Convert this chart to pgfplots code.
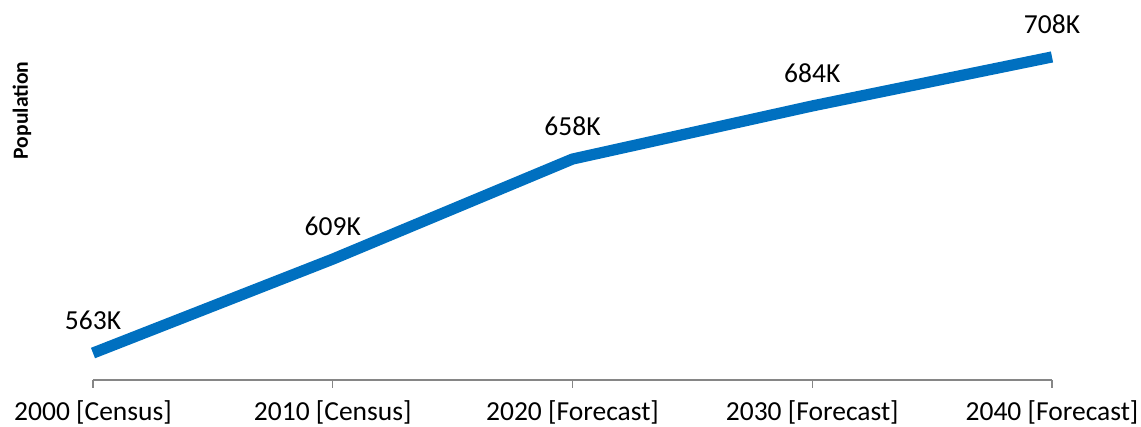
\documentclass[border=0pt]{standalone}
\usepackage{fontspec}
\setmainfont{Carlito}
\usepackage{pgfplots}
\pgfplotsset{compat=1.18}
\definecolor{lineblue}{HTML}{0070C0}
\definecolor{axisgray}{HTML}{868686}
\begin{document}
\begin{tikzpicture}
\begin{axis}[
  scale only axis,
  width=479.5pt, height=175pt,
  xmin=0, xmax=4, ymin=549.8, ymax=721.2,
  clip=false,
  axis lines=left,
  axis line style={-},
  x axis line style={draw=axisgray, line width=0.6pt},
  y axis line style={draw=none},
  ytick=\empty,
  xtick={0,1,2,3,4},
  xticklabels={2000 [Census],2010 [Census],2020 [Forecast],2030 [Forecast],2040 [Forecast]},
  tick align=outside,
  major tick length=4pt,
  x tick style={draw=axisgray, line width=0.6pt},
  xticklabel style={font=\fontsize{13.75}{16}\selectfont, anchor=center, yshift=-12pt},
  ylabel={Population},
  ylabel style={at={(rel axis cs:-0.074,0.77)}, anchor=center, font=\bfseries\fontsize{10.8}{12}\selectfont},
  /pgf/number format/assume math mode=true,
  nodes near coords={\pgfmathprintnumber[fixed,precision=0,assume math mode=true]{\pgfplotspointmeta}K},
  point meta=y,
  every node near coord/.append style={font=\fontsize{13.75}{16}\selectfont, anchor=center, yshift=16.25pt, text=black},
]
\addplot[color=lineblue, line width=5.6pt, line cap=butt, line join=round, mark=none] coordinates {
  (0,563) (1,609) (2,658) (3,684) (4,708)
};
\coordinate (sw) at (rel axis cs:0,0);
\coordinate (ne) at (rel axis cs:1,1);
\end{axis}
\pgfresetboundingbox
\path[use as bounding box] ([xshift=-46.5pt,yshift=-23.5pt]sw) rectangle ([xshift=44.5pt,yshift=15pt]ne);
\end{tikzpicture}
\end{document}
